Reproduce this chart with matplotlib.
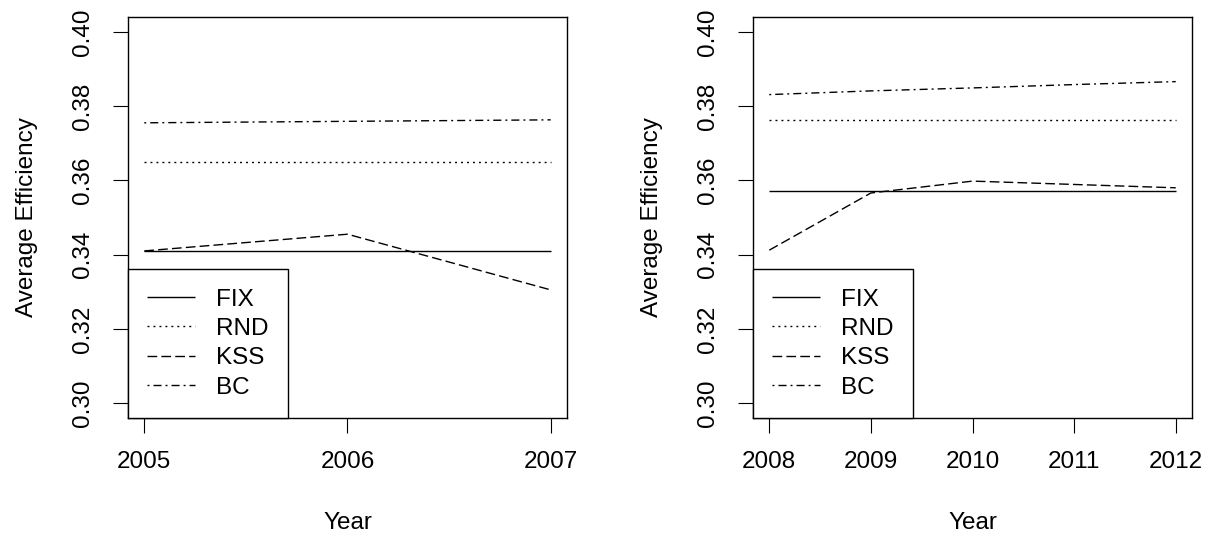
import matplotlib
matplotlib.use("Agg")
import matplotlib.pyplot as plt

plt.rcParams['font.family'] = ['Liberation Sans', 'DejaVu Sans']

# ---- data ----
years_left = [2005, 2006, 2007]
fix_left = [0.341, 0.341, 0.341]
rnd_left = [0.365, 0.365, 0.365]
kss_left = [0.341, 0.3455, 0.3305]
bc_left = [0.3755, 0.3759, 0.3763]

years_right = [2008, 2009, 2010, 2011, 2012]
fix_right = [0.3572, 0.3572, 0.3572, 0.3572, 0.3572]
rnd_right = [0.3763, 0.3763, 0.3763, 0.3763, 0.3763]
kss_right = [0.3412, 0.3566, 0.3598, 0.3589, 0.3580]
bc_right = [0.3831, 0.3841, 0.3849, 0.3858, 0.3866]

series_names = ["FIX", "RND", "KSS", "BC"]
yticks = [0.30, 0.32, 0.34, 0.36, 0.38, 0.40]

styles = {
    "FIX": (0, ()),
    "RND": (0, (1.4, 2.9)),
    "KSS": (0, (7.0, 3.0)),
    "BC": (0, (1.4, 2.9, 5.8, 2.9)),
}

FS = 17.5
fig = plt.figure(figsize=(12.12, 5.41), dpi=100)
ax1 = fig.add_axes([128 / 1212, 1 - 418 / 541, 439 / 1212, 401 / 541])
ax2 = fig.add_axes([753 / 1212, 1 - 418 / 541, 439 / 1212, 401 / 541])


def draw(ax, years, data):
    for name, vals in zip(series_names, data):
        ax.plot(years, vals, color='black', lw=1.0, linestyle=styles[name],
                label=name, dash_capstyle='butt')
    ext = (years[-1] - years[0]) * 0.04
    ax.set_xlim(years[0] - ext, years[-1] + ext)
    ax.set_ylim(0.296, 0.404)
    ax.set_xticks(years)
    ax.set_xticklabels([str(y) for y in years], fontsize=FS)
    ax.set_yticks(yticks)
    ax.set_yticklabels([f"{v:.2f}" for v in yticks], fontsize=FS,
                       rotation=90, va='center')
    ax.tick_params(direction='out', length=10.8, width=0.8, pad=14,
                   colors='black')
    ax.tick_params(axis='x', pad=13)
    for sp in ax.spines.values():
        sp.set_linewidth(1.0)
    ax.set_xlabel("Year", fontsize=FS, labelpad=28)
    ax.set_ylabel("Average Efficiency", fontsize=FS, labelpad=24)
    leg = ax.legend(loc='lower left', borderaxespad=0, fancybox=False,
                    edgecolor='black', framealpha=1, fontsize=FS,
                    handlelength=1.95, handletextpad=0.87, borderpad=0.8,
                    labelspacing=0.3)
    leg.get_frame().set_linewidth(1.0)


draw(ax1, years_left, [fix_left, rnd_left, kss_left, bc_left])
draw(ax2, years_right, [fix_right, rnd_right, kss_right, bc_right])

fig.savefig("out.png", dpi=100, facecolor='white')
